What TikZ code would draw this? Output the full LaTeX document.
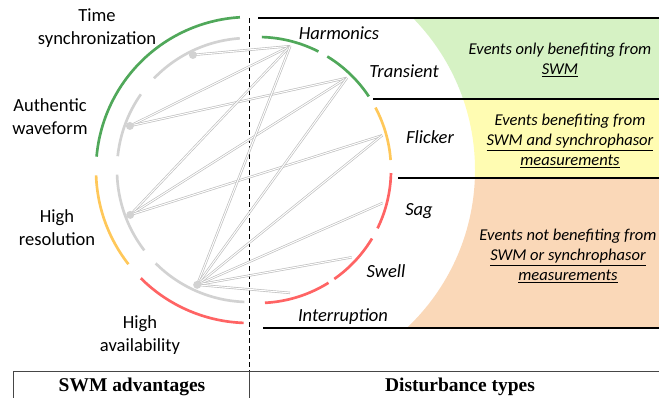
\documentclass[tikz,border=0pt]{standalone}
\usepackage{fontspec}
\newfontfamily\calfont{Carlito}
\newfontfamily\headfont{Liberation Serif}
\usetikzlibrary{calc}
\definecolor{lgreen}{RGB}{80,168,90}
\definecolor{lyellow}{RGB}{255,200,90}
\definecolor{lred}{RGB}{255,100,100}
\definecolor{arcgray}{RGB}{210,210,210}
\definecolor{chordgray}{RGB}{190,190,190}
\definecolor{fgreen}{RGB}{214,242,196}
\definecolor{fyellow}{RGB}{255,252,178}
\definecolor{forange}{RGB}{250,216,184}
\definecolor{boxline}{RGB}{70,70,70}
\newcommand{\myarc}[6]{\draw[#6] plot[domain=#4:#5, samples=60, smooth] ({#1+#3*cos(\x)},{#2-#3*sin(\x)});}
\newcommand{\regionfill}[3]{\begin{scope}\clip (258,#1) rectangle (659,#2);
  \fill[#3, even odd rule] (200,-50) rectangle (720,450) (258,170) circle[radius=217];\end{scope}}
\begin{document}
\begin{tikzpicture}[x=0.75pt,y=-0.75pt,
  seg/.style={line width=2pt},
  chord/.style={draw=chordgray, line width=0.5pt, double=white, double distance=0.75pt},
  dotnode/.style={circle, fill=arcgray, inner sep=0pt, minimum size=6pt},
  lbl/.style={font=\calfont\fontsize{13.9}{17.2}\selectfont, align=center, inner sep=0pt},
  ilbl/.style={font=\calfont\fontsize{13.9}{17.2}\selectfont\itshape, inner sep=0pt},
  boxtxt/.style={font=\calfont\fontsize{12.4}{15}\selectfont\itshape, align=center, inner sep=0pt},
  sep/.style={line width=0.9pt, black},
  head/.style={font=\headfont\fontsize{14.6}{16}\selectfont\bfseries, inner sep=0pt}]
\useasboundingbox (0,0) rectangle (659,397);
% coloured regions
\regionfill{18}{99}{fgreen}
\regionfill{99}{178}{fyellow}
\regionfill{178}{328}{forange}
% separators
\draw[sep] (258,18) -- (659,18);
\draw[sep] (373,99) -- (659,99);
\draw[sep] (398,178) -- (659,178);
\draw[sep] (263,328) -- (659,328);
\draw[black, line width=0.75pt, dash pattern=on 3.5pt off 2.5pt] (249,18) -- (249,371);
\draw[boxline, line width=0.75pt] (13,400) -- (13,371) -- (659,371);
\draw[boxline, line width=0.75pt] (249,371) -- (249,400);
% left outer arcs
\myarc{249}{170}{153}{93.4}{175}{seg, lgreen}
\myarc{249}{170}{153}{182}{218}{seg, lyellow}
\myarc{249}{170}{153}{225}{268}{seg, lred}
% left gray arcs
\myarc{249}{170}{132}{94}{136}{seg, arcgray}
\myarc{249}{170}{132}{145}{174}{seg, arcgray}
\myarc{249}{170}{132}{182}{217.5}{seg, arcgray}
\myarc{249}{170}{132}{225}{268}{seg, arcgray}
% right arcs
\myarc{258}{170}{133}{63}{88.3}{seg, lgreen}
\myarc{258}{170}{133}{33.6}{58.6}{seg, lgreen}
\myarc{258}{170}{133}{4.3}{28}{seg, lyellow}
\myarc{258}{170}{133}{-26}{-1.3}{seg, lred}
\myarc{258}{170}{133}{-55}{-31}{seg, lred}
\myarc{258}{170}{133}{-87}{-58}{seg, lred}
% endpoints
\coordinate (harm) at ({258+128*cos(75.4)},{170-128*sin(75.4)});
\coordinate (tran) at ({258+128*cos(46)},{170-128*sin(46)});
\coordinate (flic) at ({258+129*cos(15.6)},{170-129*sin(15.6)});
\coordinate (sag) at ({258+129*cos(-14.8)},{170-129*sin(-14.8)});
\coordinate (swel) at ({258+128*cos(-43)},{170-128*sin(-43)});
\coordinate (intr) at ({258+127*cos(-75.4)},{170-127*sin(-75.4)});
\coordinate (ts) at ({249+128*cos(116)},{170-128*sin(116)});
\coordinate (aw) at ({249+127*cos(159.7)},{170-127*sin(159.7)});
\coordinate (hr) at ({249+127*cos(200.7)},{170-127*sin(200.7)});
\coordinate (ha) at ({249+126*cos(245.7)},{170-126*sin(245.7)});
% chords
\draw[chord] (ts) -- (harm);
\draw[chord] (aw) -- (harm);
\draw[chord] (aw) -- (tran);
\draw[chord] (hr) -- (harm);
\draw[chord] (hr) -- (tran);
\draw[chord] (hr) -- (flic);
\draw[chord] (ha) -- (harm);
\draw[chord] (ha) -- (tran);
\draw[chord] (ha) -- (flic);
\draw[chord] (ha) -- (sag);
\draw[chord] (ha) -- (swel);
\draw[chord] (ha) -- (intr);
\node[dotnode] (tsd) at (ts) {};
\node[dotnode] (awd) at (aw) {};
\node[dotnode] (hrd) at (hr) {};
\node[dotnode] (had) at (ha) {};
% labels
\node[lbl] (lts) at (97,28) {Time\\synchronization};
\node[lbl] (law) at (50,117) {Authentic\\waveform};
\node[lbl] (lhr) at (57,228) {High\\resolution};
\node[lbl] (lha) at (140,335) {High\\availability};
\node[ilbl] (lharm) at (339,33) {Harmonics};
\node[ilbl] (ltran) at (404,71) {Transient};
\node[ilbl] (lflic) at (430,137) {Flicker};
\node[ilbl] (lsag) at (419,211) {Sag};
\node[ilbl] (lswel) at (386,271) {Swell};
\node[ilbl] (lintr) at (343,317) {Interruption};
\node[boxtxt] (bg) at (560,60) {Events only benefiting from\\\underline{SWM}};
\node[boxtxt] (by) at (570,141) {Events benefiting from\\\underline{SWM and synchrophasor}\\\underline{measurements}};
\node[boxtxt] (bo) at (568,256) {Events not benefiting from\\\underline{SWM or synchrophasor}\\\underline{measurements}};
\node[head] (h1) at (132,387) {SWM advantages};
\node[head] (h2) at (460,387) {Disturbance types};
\end{tikzpicture}
\end{document}
